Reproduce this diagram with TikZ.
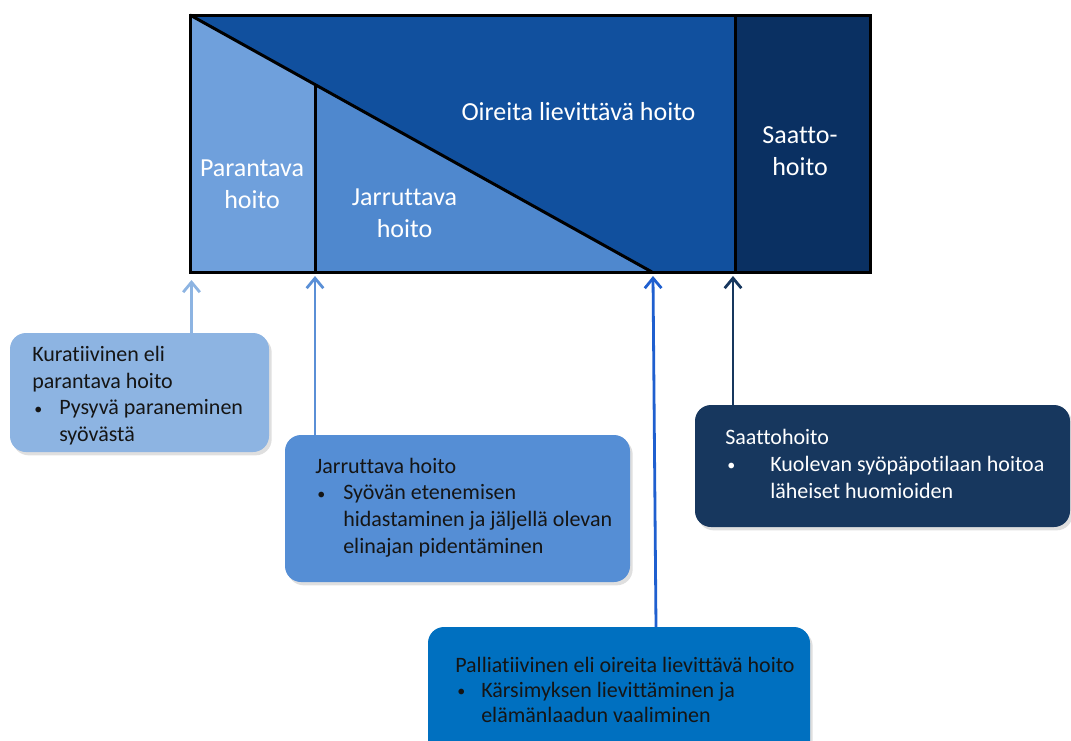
\documentclass[tikz,border=0pt]{standalone}
\usepackage{fontspec}
\setmainfont{Carlito}[Ligatures=NoCommon]
\usetikzlibrary{arrows.meta,shadows}
\definecolor{cPar}{HTML}{6FA0DC}
\definecolor{cJar}{HTML}{4F88CE}
\definecolor{cOir}{HTML}{11509E}
\definecolor{cSaa}{HTML}{0A3062}
\definecolor{bKur}{HTML}{8DB4E2}
\definecolor{bJar}{HTML}{558ED5}
\definecolor{bPal}{HTML}{0070C0}
\definecolor{bSaa}{HTML}{17375E}
\definecolor{aJar}{HTML}{5A8FD6}
\definecolor{aPal}{HTML}{1F5FCF}
\definecolor{txtdark}{HTML}{151515}
\newcommand\bul[1]{\makebox[#1][l]{\hspace{1.5pt}\raisebox{0.5pt}{\fontsize{12}{12}\selectfont\textbullet}}}
\begin{document}
\begin{tikzpicture}[x=0.75pt,y=-0.75pt,
  box/.style={rounded corners=12pt, draw=none, anchor=north west, inner sep=0pt, outer sep=0pt,
    drop shadow={shadow xshift=2pt,shadow yshift=-2.5pt,opacity=0.25}},
  boxtext/.style={anchor=base west, align=left, inner sep=0pt, text=txtdark,
    font=\fontsize{16.5}{20}\selectfont},
  regtext/.style={anchor=base, align=center, inner sep=0pt, text=white,
    font=\fontsize{19.5}{23.5}\selectfont},
  conn/.style={line width=2.1pt, -{Straight Barb[length=7.5pt,width=12.5pt]}},
  divider/.style={line width=2.25pt, black}
]
\useasboundingbox (0,0) rectangle (1071,740);
\clip (0,0) rectangle (1071,740);

% --- top diagram regions
\fill[cOir] (190,15) rectangle (735,272);
\fill[cSaa] (735,15) rectangle (870,272);
\fill[cJar] (190,15) -- (652,272) -- (190,272) -- cycle;
\fill[cPar] (190,15) -- (315,84.5) -- (315,272) -- (190,272) -- cycle;
\draw[divider] (190,15) -- (652,272);
\draw[divider] (315,84.5) -- (315,272);
\draw[divider] (735,15) -- (735,272);
\node[draw, line width=2.25pt, inner sep=0pt, outer sep=0pt, minimum width=510pt,
  minimum height=192.75pt] (frame) at (530,143.5) {};

% base anchor = baseline of the last line
\node[regtext] (rPar) at (252,208) {Parantava\\hoito};
\node[regtext] (rJar) at (404.5,237) {Jarruttava\\hoito};
\node[regtext] (rOir) at (578.5,120) {Oireita lievittävä hoito};
\node[regtext] (rSaa) at (800,175) {Saatto-\\hoito};

% --- boxes
\node[box, fill=bKur, minimum width=194.25pt, minimum height=89.25pt] (b1) at (10,333) {};
\node[box, fill=bJar, minimum width=258.75pt, minimum height=110.25pt] (b2) at (285,435) {};
\node[box, fill=bPal, minimum width=286.5pt, minimum height=97.5pt] (b3) at (428,627) {};
\node[box, fill=bSaa, minimum width=281.25pt, minimum height=91.5pt] (b4) at (695,405) {};

\node[boxtext] (t1) at (32,441.5) {Kuratiivinen eli\\parantava hoito\\\bul{20.25pt}Pysyvä paraneminen\\\hspace*{20.25pt}syövästä};
\node[boxtext] (t2) at (315,553) {Jarruttava hoito\\\bul{21pt}Syövän etenemisen\\\hspace*{21pt}hidastaminen ja jäljellä olevan\\\hspace*{21pt}elinajan pidentäminen};
\node[boxtext, font=\fontsize{16.5}{18.75}\selectfont] (t3) at (455,722) {Palliatiivinen eli oireita lievittävä hoito\\\bul{19.5pt}Kärsimyksen lievittäminen ja\\\hspace*{19.5pt}elämänlaadun vaaliminen};
\node[boxtext, text=white] (t4) at (725,498) {Saattohoito\\\bul{33.75pt}Kuolevan syöpäpotilaan hoitoa\\\hspace*{33.75pt}läheiset huomioiden};

% --- arrow tips on the frame
\coordinate (pKur) at (191.5,280);
\coordinate (pJar) at (315,276);
\coordinate (pPal) at (653,276);
\coordinate (pSaa) at (733,276);

\draw[conn, bKur] (b1.north -| pKur) -- (pKur);
\draw[conn, aJar] (b2.north -| pJar) -- (pJar);
\draw[conn, aPal] ([xshift=171pt]b3.north west) -- (pPal);
\draw[conn, bSaa] (b4.north -| pSaa) -- (pSaa);
\end{tikzpicture}
\end{document}
